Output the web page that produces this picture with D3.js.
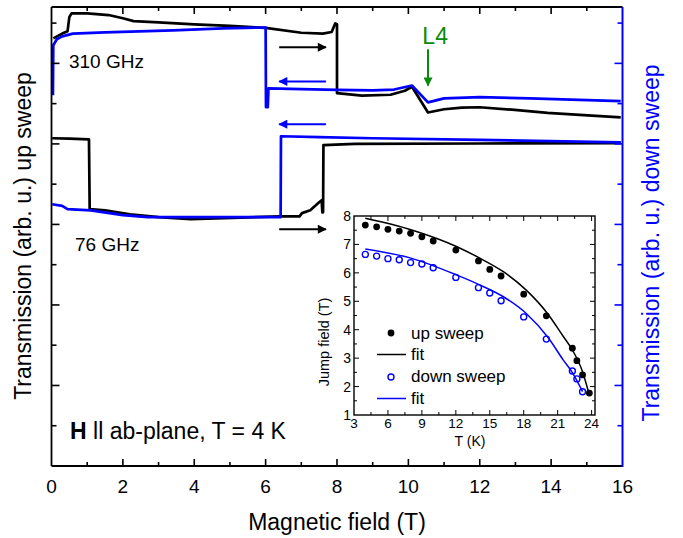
<!DOCTYPE html>
<html>
<head>
<meta charset="utf-8">
<script src="https://cdn.jsdelivr.net/npm/d3@7/dist/d3.min.js"></script>
<style>
body {margin:0; background:#fff;}
svg {font-family:"Liberation Sans", Arial, Helvetica, sans-serif;}
</style>
</head>
<body>
<svg id="chart" width="683" height="538"></svg>
<script>
// main panel: [field (T), transmission (arb. u.)]
var up310 = [[0.05,10.62],[0.3,10.74],[0.45,10.8],[0.5,11.15],[0.56,11.24],[1.0,11.24],[1.6,11.2],[2.0,11.12],[2.3,11.05],[3.0,11.02],[4.0,10.97],[5.0,10.93],[6.0,10.88],[7.0,10.76],[7.6,10.74],[7.85,10.78],[7.95,10.99],[8.0,10.97],[8.0,9.26],[8.7,9.2],[9.5,9.22],[9.9,9.32],[10.1,9.42],[10.55,8.78],[11.0,8.86],[11.5,8.9],[12.0,8.91],[12.9,8.85],[13.9,8.77],[14.8,8.72],[15.95,8.66]];
var down310 = [[0.04,9.21],[0.05,10.45],[0.15,10.6],[0.3,10.67],[0.6,10.74],[1.5,10.77],[3.4,10.82],[4.8,10.87],[5.95,10.89],[6.0,10.89],[6.01,8.91],[6.06,8.91],[6.08,9.38],[7.0,9.36],[8.0,9.34],[9.0,9.33],[9.6,9.35],[10.1,9.45],[10.55,9.03],[11.0,9.13],[12.0,9.16],[13.4,9.13],[15.95,9.06]];
var up76 = [[0.02,8.14],[0.5,8.13],[1.05,8.11],[1.07,6.38],[1.5,6.35],[2.2,6.25],[3.0,6.18],[3.9,6.13],[5.3,6.17],[6.4,6.2],[6.95,6.2],[7.02,6.28],[7.25,6.35],[7.5,6.55],[7.57,6.6],[7.59,6.3],[7.61,6.3],[7.62,7.97],[8.5,8.0],[12,8.01],[15.95,8.02]];
var down76 = [[0.02,6.5],[0.3,6.46],[0.45,6.38],[1.1,6.35],[2.0,6.23],[2.7,6.18],[4.4,6.18],[6.42,6.18],[6.43,8.19],[7.5,8.17],[9,8.14],[12,8.1],[15.95,8.04]];
var fieldTicks = [0,2,4,6,8,10,12,14,16];

// inset: jump field vs temperature
var tempUp = [4,5,6,7,8,9,10,12,14,15,16,18,20,22.3,22.7,23.2,23.8];
var jumpUp = [7.68,7.62,7.53,7.47,7.39,7.27,7.12,6.8,6.42,6.12,5.89,5.25,4.49,3.35,2.91,2.41,1.77];
var tempDown = [4,5,6,7,8,9,10,12,14,15,16,18,20,22.3,22.7,23.2];
var jumpDown = [6.65,6.59,6.5,6.46,6.36,6.31,6.18,5.84,5.48,5.29,5.02,4.45,3.67,2.55,2.27,1.82];
var fitUpT = [4,8.1,12.1,14.15,16.2,18.2,20.2,21.5,22.3,23.2,23.8];
var fitUp = [7.92,7.51,6.92,6.51,6.04,5.4,4.52,3.76,3.29,2.52,1.7];
var fitDownT = [4,8.1,12.1,14.15,16.2,18.2,20.2,21.5,22.3,23.2];
var fitDown = [6.84,6.51,5.92,5.57,5.16,4.58,3.7,2.93,2.49,1.82];
var tempTicks = [3,6,9,12,15,18,21,24];
var jumpTicks = [1,2,3,4,5,6,7,8];

var BLUE = "#0000ff", GREEN = "#0a8a0a";
var svg = d3.select("#chart");

// ---- main panel ----
var x = d3.scaleLinear().domain([0,16]).range([51.5,622.5]);
var y = d3.scaleLinear().domain([0,11.4]).range([466,7]);

var line = d3.line().x(d => x(d[0])).y(d => y(d[1]));
[[up310,"#000"],[up76,"#000"],[down310,BLUE],[down76,BLUE]].forEach(function(s){
  svg.append("path").attr("d", line(s[0])).attr("fill","none")
    .attr("stroke", s[1]).attr("stroke-width", 2.7).attr("stroke-linejoin","round");
});

// frame
svg.append("line").attr("x1",x(0)).attr("x2",x(16)).attr("y1",y(11.4)).attr("y2",y(11.4)).attr("stroke","#000").attr("stroke-width",1.8);
svg.append("line").attr("x1",x(0)).attr("x2",x(16)).attr("y1",y(0)).attr("y2",y(0)).attr("stroke","#000").attr("stroke-width",1.8);
svg.append("line").attr("x1",x(0)).attr("x2",x(0)).attr("y1",y(0)).attr("y2",y(11.4)).attr("stroke","#000").attr("stroke-width",1.8);
svg.append("line").attr("x1",x(16)).attr("x2",x(16)).attr("y1",y(0)+1).attr("y2",y(11.4)).attr("stroke",BLUE).attr("stroke-width",2);

// x ticks (bottom + top, inward)
d3.range(0,17).forEach(function(v){
  var len = v % 2 == 0 ? 7 : 4;
  if (v > 0 && v < 16) {
    svg.append("line").attr("x1",x(v)).attr("x2",x(v)).attr("y1",y(0)).attr("y2",y(0)-len).attr("stroke","#000").attr("stroke-width",1.6);
    svg.append("line").attr("x1",x(v)).attr("x2",x(v)).attr("y1",y(11.4)).attr("y2",y(11.4)+len).attr("stroke","#000").attr("stroke-width",1.6);
  }
});
fieldTicks.forEach(function(v){
  svg.append("text").attr("x",x(v)).attr("y",493).attr("text-anchor","middle")
    .attr("font-size",19).text(v);
});
// y ticks, left black, right blue
d3.range(1,12).forEach(function(v){
  var len = v % 2 == 0 ? 8 : 5;
  svg.append("line").attr("x1",x(0)).attr("x2",x(0)+len).attr("y1",y(v)).attr("y2",y(v)).attr("stroke","#000").attr("stroke-width",1.6);
  svg.append("line").attr("x1",x(16)).attr("x2",x(16)-len).attr("y1",y(v)).attr("y2",y(v)).attr("stroke",BLUE).attr("stroke-width",1.6);
});

// axis titles
svg.append("text").attr("x",337).attr("y",530).attr("text-anchor","middle").attr("font-size",23).text("Magnetic field (T)");
svg.append("text").attr("transform","translate(31,236) rotate(-90)").attr("text-anchor","middle").attr("font-size",23).text("Transmission (arb. u.) up sweep");
svg.append("text").attr("transform","translate(659,243) rotate(-90)").attr("text-anchor","middle").attr("font-size",23).attr("fill",BLUE).text("Transmission (arb. u.) down sweep");

// annotations
svg.append("text").attr("x",x(0.49)).attr("y",y(9.88)).attr("font-size",19).text("310 GHz");
svg.append("text").attr("x",x(0.66)).attr("y",y(5.33)).attr("font-size",19).text("76 GHz");
var ht = svg.append("text").attr("x",x(0.52)).attr("y",y(0.67)).attr("font-size",23);
ht.append("tspan").attr("font-weight","bold").text("H");
ht.append("tspan").text(" ll ab-plane, T = 4 K");

var defs = svg.append("defs");
[["hk","#000"],["hb",BLUE],["hg",GREEN]].forEach(function(m){
  defs.append("marker").attr("id",m[0]).attr("viewBox","0 0 10 10").attr("refX",9).attr("refY",5)
    .attr("markerWidth",5).attr("markerHeight",4.5).attr("markerUnits","strokeWidth").attr("orient","auto")
    .append("path").attr("d","M0,0L10,5L0,10Z").attr("fill",m[1]);
});
// sweep direction arrows
[[6.38,7.69,10.4,"hk","#000"],[7.69,6.38,9.55,"hb",BLUE],[7.69,6.38,8.49,"hb",BLUE],[6.38,7.69,5.88,"hk","#000"]].forEach(function(a){
  svg.append("line").attr("x1",x(a[0])).attr("x2",x(a[1])).attr("y1",y(a[2])).attr("y2",y(a[2]))
    .attr("stroke",a[4]).attr("stroke-width",2).attr("marker-end","url(#"+a[3]+")");
});
svg.append("line").attr("x1",x(10.55)).attr("x2",x(10.55)).attr("y1",y(10.35)).attr("y2",y(9.45))
  .attr("stroke",GREEN).attr("stroke-width",2).attr("marker-end","url(#hg)");
svg.append("text").attr("x",x(10.75)).attr("y",y(10.47)).attr("text-anchor","middle").attr("font-size",23).attr("fill",GREEN).text("L4");

// ---- inset ----
var ix = d3.scaleLinear().domain([3,24.3]).range([354,595]);
var iy = d3.scaleLinear().domain([1,8]).range([415,216]);
svg.append("rect").attr("x",ix(3)).attr("y",iy(8)).attr("width",ix(24.3)-ix(3)).attr("height",iy(1)-iy(8))
  .attr("fill","#fff").attr("stroke","#000").attr("stroke-width",1.4);

d3.range(3,24.3,1.5).forEach(function(v){
  var len = (v - 3) % 3 == 0 ? 5 : 3;
  if (v > 3) {
    svg.append("line").attr("x1",ix(v)).attr("x2",ix(v)).attr("y1",iy(1)).attr("y2",iy(1)-len).attr("stroke","#000");
    svg.append("line").attr("x1",ix(v)).attr("x2",ix(v)).attr("y1",iy(8)).attr("y2",iy(8)+len).attr("stroke","#000");
  }
});
d3.range(1.5,8,0.5).forEach(function(v){
  var len = v % 1 == 0 ? 5 : 3;
  svg.append("line").attr("x1",ix(3)).attr("x2",ix(3)+len).attr("y1",iy(v)).attr("y2",iy(v)).attr("stroke","#000");
  svg.append("line").attr("x1",ix(24.3)).attr("x2",ix(24.3)-len).attr("y1",iy(v)).attr("y2",iy(v)).attr("stroke","#000");
});
tempTicks.forEach(function(v){
  svg.append("text").attr("x",ix(v)).attr("y",428).attr("text-anchor","middle").attr("font-size",13.5).text(v);
});
jumpTicks.forEach(function(v){
  svg.append("text").attr("x",ix(3)-3).attr("y",iy(v)+5).attr("text-anchor","end").attr("font-size",14).text(v);
});
svg.append("text").attr("x",470).attr("y",446).attr("text-anchor","middle").attr("font-size",14).text("T (K)");
svg.append("text").attr("transform","translate(329,342) rotate(-90)").attr("text-anchor","middle").attr("font-size",14.5).text("Jump field (T)");

var fitLine = d3.line().curve(d3.curveMonotoneX).x(d => ix(d[0])).y(d => iy(d[1]));
svg.append("path").attr("d", fitLine(d3.zip(fitUpT, fitUp))).attr("fill","none").attr("stroke","#000").attr("stroke-width",1.5);
svg.append("path").attr("d", fitLine(d3.zip(fitDownT, fitDown))).attr("fill","none").attr("stroke",BLUE).attr("stroke-width",1.5);

svg.selectAll(".up").data(d3.zip(tempUp, jumpUp)).enter().append("circle")
  .attr("cx", d => ix(d[0])).attr("cy", d => iy(d[1])).attr("r",3.4).attr("fill","#000");
svg.selectAll(".dn").data(d3.zip(tempDown, jumpDown)).enter().append("circle")
  .attr("cx", d => ix(d[0])).attr("cy", d => iy(d[1])).attr("r",3).attr("fill","none").attr("stroke",BLUE).attr("stroke-width",1.4);

// legend
var lg = svg.append("g");
lg.append("circle").attr("cx",391).attr("cy",333).attr("r",3.4).attr("fill","#000");
lg.append("text").attr("x",411).attr("y",339).attr("font-size",17).text("up sweep");
lg.append("line").attr("x1",377).attr("x2",406).attr("y1",354.5).attr("y2",354.5).attr("stroke","#000").attr("stroke-width",1.5);
lg.append("text").attr("x",411).attr("y",360).attr("font-size",17).text("fit");
lg.append("circle").attr("cx",391).attr("cy",377).attr("r",3).attr("fill","none").attr("stroke",BLUE).attr("stroke-width",1.4);
lg.append("text").attr("x",411).attr("y",382).attr("font-size",17).text("down sweep");
lg.append("line").attr("x1",377).attr("x2",406).attr("y1",398.5).attr("y2",398.5).attr("stroke",BLUE).attr("stroke-width",1.5);
lg.append("text").attr("x",411).attr("y",404).attr("font-size",17).text("fit");
</script>
</body>
</html>
